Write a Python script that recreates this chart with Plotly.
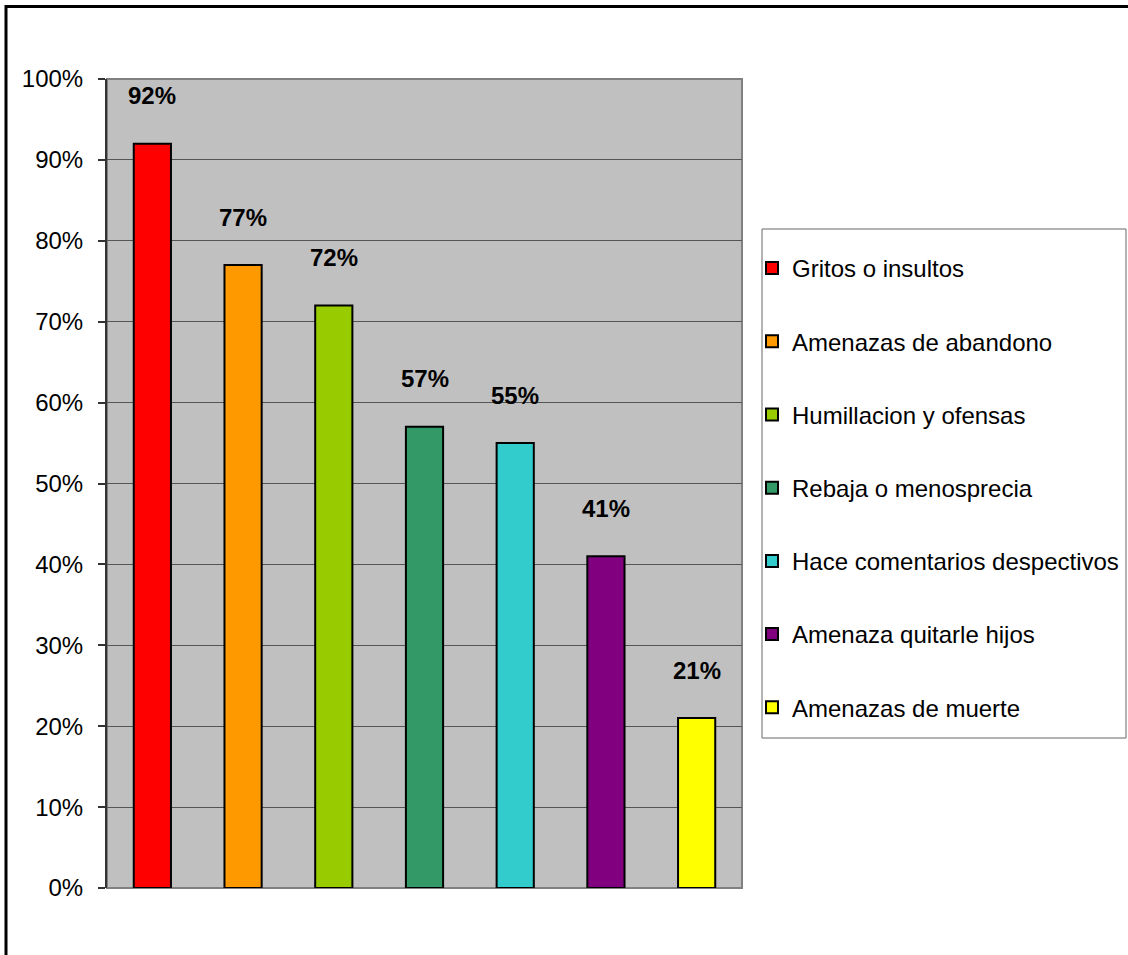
import plotly.graph_objects as go

categories = ["Gritos o insultos", "Amenazas de abandono", "Humillacion y ofensas",
              "Rebaja o menosprecia", "Hace comentarios despectivos",
              "Amenaza quitarle hijos", "Amenazas de muerte"]
values = [0.92, 0.77, 0.72, 0.57, 0.55, 0.41, 0.21]
labels = ["92%", "77%", "72%", "57%", "55%", "41%", "21%"]
colors = ["#FF0000", "#FF9900", "#99CC00", "#339966", "#33CCCC", "#800080", "#FFFF00"]
tick_vals = [0, 0.1, 0.2, 0.3, 0.4, 0.5, 0.6, 0.7, 0.8, 0.9, 1.0]
tick_text = ["0%", "10%", "20%", "30%", "40%", "50%", "60%", "70%", "80%", "90%", "100%"]

FONT = "Liberation Sans, Arial, sans-serif"
W, H = 1128, 955
L, R, T, B = 107, 386, 79, 67
pw, ph = W - L - R, H - T - B

def px_x(p):
    return (p - L) / pw

def px_y(p):
    return (H - B - p) / ph

fig = go.Figure()
for i, (c, v, col) in enumerate(zip(categories, values, colors)):
    fig.add_trace(go.Bar(
        x=[c], y=[v], name=c, marker=dict(color=col, line=dict(color="#000000", width=2)),
        legendgroup=f"g{i}", hoverinfo="skip"))
    fig.add_annotation(x=c, y=v, text=f"<b>{labels[i]}</b>", showarrow=False,
                       yanchor="middle", yshift=48,
                       font=dict(family=FONT, size=24, color="#000000"))

# outer chart border (top and left visible)
fig.add_shape(type="rect", xref="paper", yref="paper",
              x0=px_x(6), x1=px_x(W + 20), y0=px_y(H + 20), y1=px_y(6.5),
              line=dict(color="#000000", width=3), layer="above")
# plot area border
fig.add_shape(type="rect", xref="paper", yref="paper", x0=0, x1=1, y0=0, y1=1,
              line=dict(color="#808080", width=2), layer="below")
# legend box
fig.add_shape(type="rect", xref="paper", yref="paper",
              x0=px_x(762), x1=px_x(1126), y0=px_y(738), y1=px_y(229),
              line=dict(color="#666666", width=1), fillcolor="#FFFFFF", layer="below")

fig.update_layout(
    width=W, height=H,
    margin=dict(l=L, r=R, t=T, b=B, autoexpand=False),
    paper_bgcolor="#FFFFFF", plot_bgcolor="#C0C0C0",
    barmode="overlay", bargap=0.59,
    showlegend=True,
    legend=dict(x=px_x(752), y=px_y(246), xanchor="left", yanchor="top",
                bgcolor="rgba(0,0,0,0)", borderwidth=0,
                font=dict(family=FONT, size=24, color="#000000"),
                tracegroupgap=39, traceorder="grouped"),
    font=dict(family=FONT, color="#000000"),
)
fig.update_xaxes(showticklabels=False, showgrid=False, zeroline=False, ticks="",
                 categoryorder="array", categoryarray=categories)
fig.update_yaxes(range=[0, 1], tickvals=tick_vals, ticktext=tick_text,
                 showgrid=True, gridcolor="#555555", gridwidth=1, zeroline=False,
                 ticks="outside", ticklen=7, tickcolor="#333333", tickwidth=2,
                 ticklabelstandoff=10,
                 showline=True, linecolor="#333333", linewidth=2,
                 tickfont=dict(family=FONT, size=24, color="#000000"))

fig.write_html("out.html", config={"displayModeBar": False},
               post_script="document.body.style.margin='0';document.body.style.overflow='hidden';")
